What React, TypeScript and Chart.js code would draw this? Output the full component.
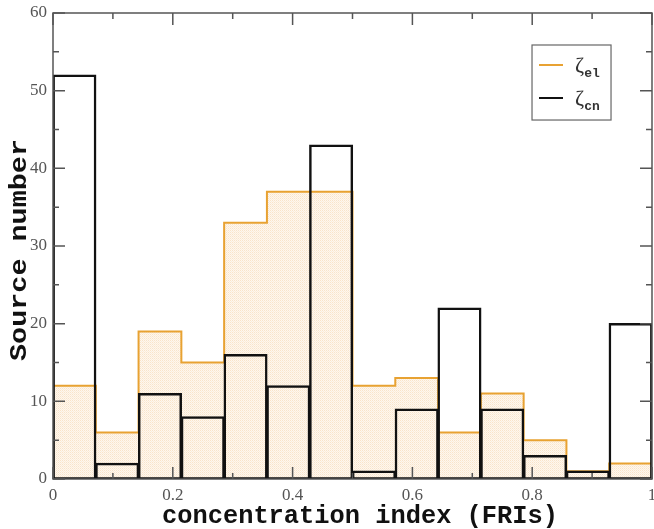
import React, { useEffect, useRef } from "react";
import { Chart, registerables } from "chart.js";

Chart.register(...registerables);

const binCount = 14;
const zetaEl = [12, 6, 19, 15, 33, 37, 37, 12, 13, 6, 11, 5, 1, 2];
const zetaCn = [52, 2, 11, 8, 16, 12, 43, 1, 9, 22, 9, 3, 1, 20];
const legendLabels = [
  { base: "ζ", sub: "el" },
  { base: "ζ", sub: "cn" },
];
const xTitle = "concentration index (FRIs)";
const yTitle = "Source number";

const ORANGE = "#e8a232";
const BLACK = "#111111";
const FRAME = "#555555";

function makePattern(): CanvasPattern | string {
  const c = document.createElement("canvas");
  c.width = 2;
  c.height = 2;
  const g = c.getContext("2d");
  if (!g) return "#fcefe0";
  g.fillStyle = "#fef7ee";
  g.fillRect(0, 0, 2, 2);
  g.fillStyle = "#f9e4ca";
  g.fillRect(0, 0, 1, 1);
  g.fillStyle = "#fcedda";
  g.fillRect(1, 1, 1, 1);
  const p = g.createPattern(c, "repeat");
  return p || "#fcefe0";
}

const framePlugin = {
  id: "frameTicks",
  afterDatasetsDraw(chart: any) {
    const { ctx, chartArea } = chart;
    const xs = chart.scales.x;
    const ys = chart.scales.y;
    const { left, right, top, bottom } = chartArea;
    ctx.save();
    ctx.strokeStyle = FRAME;
    ctx.lineWidth = 1.5;
    const major = 12;
    const minor = 6;
    for (let i = 0; i <= 10; i++) {
      const v = i / 10;
      const px = xs.getPixelForValue(v);
      const len = i % 2 === 0 ? major : minor;
      ctx.beginPath();
      ctx.moveTo(px, bottom);
      ctx.lineTo(px, bottom - len);
      ctx.moveTo(px, top);
      ctx.lineTo(px, top + len);
      ctx.stroke();
    }
    for (let i = 0; i <= 12; i++) {
      const v = i * 5;
      const py = ys.getPixelForValue(v);
      const len = i % 2 === 0 ? major : minor;
      ctx.beginPath();
      ctx.moveTo(left, py);
      ctx.lineTo(left + len, py);
      ctx.moveTo(right, py);
      ctx.lineTo(right - len, py);
      ctx.stroke();
    }
    ctx.strokeRect(left, top, right - left, bottom - top);
    ctx.restore();
  },
  afterDraw(chart: any) {
    const { ctx } = chart;
    const xs = chart.scales.x;
    const ys = chart.scales.y;
    // legend
    const bx0 = xs.getPixelForValue(0.7997);
    const bx1 = xs.getPixelForValue(0.9316);
    const by0 = ys.getPixelForValue(55.88);
    const by1 = ys.getPixelForValue(46.22);
    ctx.save();
    ctx.fillStyle = "#ffffff";
    ctx.fillRect(bx0, by0, bx1 - bx0, by1 - by0);
    ctx.strokeStyle = "#666666";
    ctx.lineWidth = 1.2;
    ctx.strokeRect(bx0, by0, bx1 - bx0, by1 - by0);
    const colors = [ORANGE, BLACK];
    const rowsY = [by0 + 20, by0 + 53];
    legendLabels.forEach((lab, i) => {
      const y = rowsY[i];
      ctx.strokeStyle = colors[i];
      ctx.lineWidth = 2;
      ctx.beginPath();
      ctx.moveTo(bx0 + 7, y);
      ctx.lineTo(bx0 + 31, y);
      ctx.stroke();
      ctx.fillStyle = "#333333";
      ctx.font = "22px 'Liberation Serif'";
      ctx.textBaseline = "middle";
      ctx.textAlign = "left";
      ctx.fillText(lab.base, bx0 + 43, y + 1);
      const w = ctx.measureText(lab.base).width;
      ctx.font = "bold 13px 'Liberation Mono'";
      ctx.fillText(lab.sub, bx0 + 43 + w, y + 9);
    });
    ctx.restore();

    // axis titles
    ctx.save();
    ctx.fillStyle = "#111111";
    ctx.textAlign = "center";
    ctx.textBaseline = "alphabetic";
    ctx.font = "bold 25px 'Liberation Mono'";
    const xw = ctx.measureText(xTitle).width;
    ctx.translate(360, 523);
    ctx.scale(396 / xw, 1);
    ctx.fillText(xTitle, 0, 0);
    ctx.restore();

    ctx.save();
    ctx.fillStyle = "#111111";
    ctx.textAlign = "center";
    ctx.textBaseline = "alphabetic";
    ctx.font = "bold 24px 'Liberation Mono'";
    const yw = ctx.measureText(yTitle).width;
    ctx.translate(26, 250);
    ctx.rotate(-Math.PI / 2);
    ctx.scale(222 / yw, 1);
    ctx.fillText(yTitle, 0, 0);
    ctx.restore();
  },
};

function fmt(v: number): string {
  return String(Math.round(v * 10) / 10);
}

export default function App() {
  const ref = useRef<HTMLCanvasElement | null>(null);
  useEffect(() => {
    if (!ref.current) return;
    const edges: number[] = [];
    for (let i = 0; i <= binCount; i++) edges.push(i / binCount);
    const stepData = zetaEl.map((v, i) => ({ x: edges[i], y: v }));
    stepData.push({ x: edges[binCount], y: zetaEl[binCount - 1] });
    const barData = zetaCn.map((v, i) => ({ x: (edges[i] + edges[i + 1]) / 2, y: v }));
    const chart = new Chart(ref.current, {
      type: "bar",
      data: {
        datasets: [
          {
            type: "line",
            label: "zeta_el",
            data: stepData,
            stepped: true,
            borderColor: ORANGE,
            borderWidth: 2,
            backgroundColor: makePattern() as any,
            fill: "origin",
            pointRadius: 0,
            order: 2,
          } as any,
          {
            type: "bar",
            label: "zeta_cn",
            data: barData,
            backgroundColor: "rgba(0,0,0,0)",
            borderColor: BLACK,
            borderWidth: 1.25,
            borderSkipped: false,
            inflateAmount: 0.62,
            barPercentage: 1,
            categoryPercentage: 1,
            order: 1,
          } as any,
        ],
      },
      options: {
        animation: false,
        responsive: true,
        maintainAspectRatio: false,
        layout: { padding: { top: 13, right: 2, left: 0, bottom: 0 } },
        plugins: { legend: { display: false }, tooltip: { enabled: false } },
        scales: {
          x: {
            type: "linear",
            min: 0,
            max: 1,
            offset: false,
            grid: { display: false, drawTicks: false },
            border: { display: false },
            ticks: {
              stepSize: 0.2,
              padding: 6,
              color: "#555555",
              font: { family: "'Liberation Serif'", size: 17 },
              maxRotation: 0,
              callback: (v: any) => fmt(Number(v)),
            },
            title: { display: false },
            afterFit: (s: any) => {
              s.height = 50;
              s.paddingLeft = 0;
              s.paddingRight = 0;
            },
          },
          y: {
            min: 0,
            max: 60,
            grid: { display: false, drawTicks: false },
            border: { display: false },
            ticks: {
              stepSize: 10,
              padding: 6,
              color: "#555555",
              font: { family: "'Liberation Serif'", size: 17 },
            },
            title: { display: false },
            afterFit: (s: any) => {
              s.width = 53;
              s.paddingTop = 0;
              s.paddingBottom = 0;
            },
          },
        },
      } as any,
      plugins: [framePlugin],
    });
    return () => chart.destroy();
  }, []);
  return (
    <div style={{ position: "fixed", left: 0, top: 0, width: 654, height: 529, background: "#fff" }}>
      <canvas ref={ref} />
    </div>
  );
}
